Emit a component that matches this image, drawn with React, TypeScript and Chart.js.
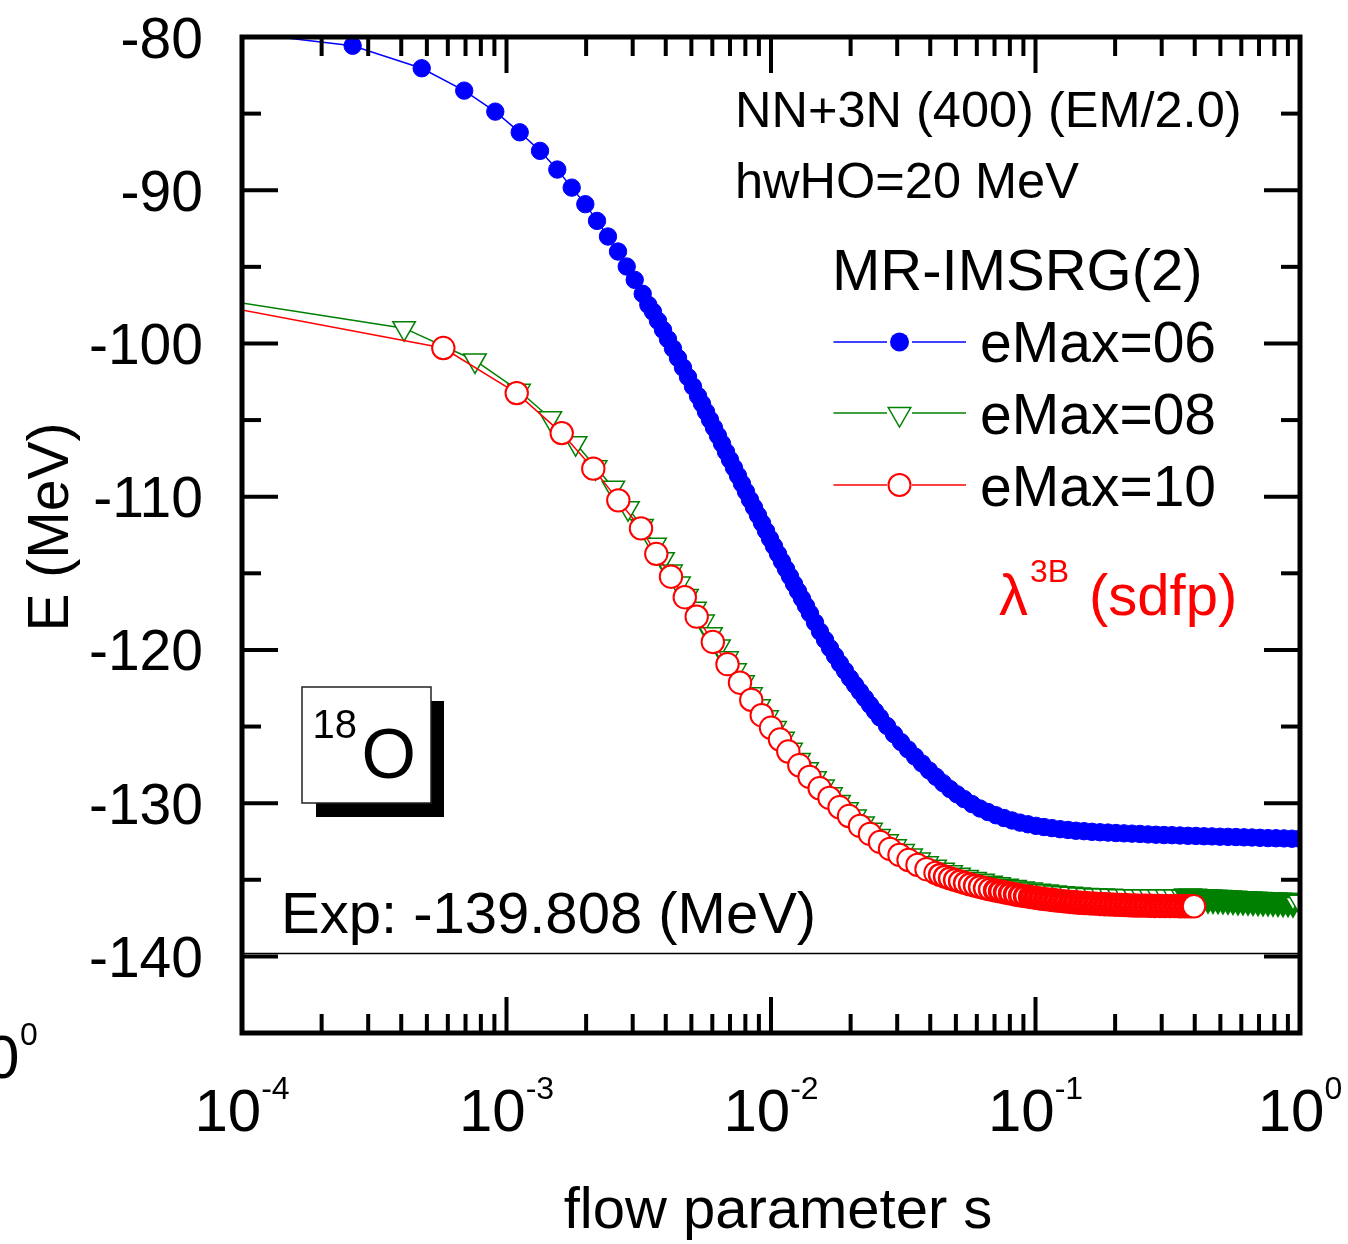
import React, { useEffect, useRef } from 'react';
import { Chart, registerables } from 'chart.js';

Chart.register(...registerables);

const FONT = '"Liberation Sans", Arial, Helvetica, sans-serif';

// ---- axis / label data ----
const yTickValues = [-80, -90, -100, -110, -120, -130, -140];
const xTickExponents = [-4, -3, -2, -1, 0];
const seriesLabels = ['eMax=06', 'eMax=08', 'eMax=10'];
const expEnergy = -139.808;

// ---- eMax=06 (blue, filled circles) ----
const sBlue = [
  4.4e-5, 2.62e-4, 4.78e-4, 6.92e-4, 9.07e-4, 1.122e-3, 1.339e-3, 1.556e-3, 1.764e-3, 1.986e-3,
  2.199e-3, 2.419e-3, 2.64e-3, 2.848e-3, 3.053e-3, 3.273e-3, 3.437e-3,
  3.58e-3, 3.739e-3, 3.906e-3, 4.079e-3, 4.261e-3, 4.45e-3, 4.648e-3, 4.855e-3, 5.071e-3, 5.297e-3,
  5.485e-3, 5.679e-3, 5.88e-3, 6.088e-3, 6.304e-3, 6.528e-3, 6.759e-3, 6.998e-3, 7.246e-3, 7.503e-3,
  7.769e-3, 8.044e-3, 8.329e-3, 8.625e-3, 8.93e-3, 9.247e-3, 9.574e-3, 9.914e-3,
  1.0265e-2, 1.0629e-2, 1.1005e-2, 1.1395e-2, 1.1799e-2, 1.2217e-2, 1.265e-2, 1.3098e-2, 1.3562e-2, 1.4043e-2,
  1.4668e-2, 1.532e-2, 1.6002e-2, 1.6714e-2, 1.7457e-2, 1.8234e-2, 1.9045e-2, 1.9892e-2, 2.0777e-2,
  2.1702e-2, 2.2667e-2, 2.3676e-2, 2.4729e-2, 2.5829e-2,
  2.7452e-2, 2.9177e-2, 3.101e-2, 3.2959e-2, 3.5029e-2, 3.7231e-2, 3.957e-2, 4.2056e-2, 4.4699e-2,
  4.7507e-2, 5.0492e-2,
  5.3665e-2, 5.7536e-2, 6.1686e-2, 6.6135e-2, 7.0905e-2, 7.6019e-2, 8.1502e-2, 8.7381e-2, 9.3683e-2,
  0.10044, 0.10768, 0.11545, 0.12378, 0.13271, 0.14228, 0.15254, 0.16354, 0.17534, 0.18798, 0.20154,
  0.21608, 0.23166, 0.24837, 0.26629, 0.28549, 0.30608, 0.32816, 0.35183, 0.37721, 0.40441, 0.43358,
  0.46485, 0.49838, 0.53433, 0.57287, 0.61419, 0.65849, 0.70598, 0.7569, 0.8115, 0.87002, 0.93278, 1.0,
];
const eBlue = [
  -79.0, -80.57, -82.04, -83.5, -84.87, -86.22, -87.43, -88.65, -89.83, -90.91,
  -92.0, -93.02, -94.0, -94.98, -95.85, -96.76, -97.48,
  -97.93, -98.52, -99.11, -99.72, -100.33, -100.95, -101.57, -102.19, -102.81, -103.43,
  -103.93, -104.46, -104.98, -105.5, -106.02, -106.54, -107.07, -107.59, -108.11, -108.63,
  -109.15, -109.67, -110.2, -110.7, -111.21, -111.72, -112.23, -112.74,
  -113.23, -113.73, -114.23, -114.72, -115.2, -115.69, -116.17, -116.65, -117.13, -117.62,
  -118.21, -118.8, -119.34, -119.88, -120.39, -120.89, -121.36, -121.84, -122.28,
  -122.72, -123.15, -123.58, -124.0, -124.41,
  -124.96, -125.5, -126.01, -126.49, -126.96, -127.41, -127.86, -128.28, -128.69,
  -129.08, -129.42,
  -129.73, -130.06, -130.35, -130.58, -130.79, -130.97, -131.13, -131.27, -131.38,
  -131.48, -131.56, -131.63, -131.7, -131.75, -131.8, -131.83, -131.87, -131.9, -131.92, -131.95,
  -131.97, -131.99, -132.01, -132.04, -132.06, -132.08, -132.09, -132.11, -132.13, -132.14, -132.16,
  -132.17, -132.19, -132.2, -132.21, -132.23, -132.24, -132.26, -132.28, -132.29, -132.3, -132.32, -132.32,
];

// ---- eMax=08 (green, open down-triangles) ----
const sGreen = [
  6.0e-5, 4.1e-4, 7.6e-4, 1.115e-3, 1.464e-3, 1.825e-3, 2.173e-3, 2.534e-3, 2.879e-3, 3.253e-3,
  3.643e-3, 3.906e-3, 4.187e-3, 4.489e-3, 4.813e-3, 5.16e-3, 5.533e-3, 5.932e-3, 6.359e-3, 6.818e-3,
  7.31e-3, 7.837e-3, 8.402e-3, 9.008e-3, 9.658e-3, 1.0355e-2, 1.1101e-2, 1.1902e-2, 1.2761e-2, 1.3681e-2,
  1.4668e-2, 1.5726e-2, 1.686e-2, 1.8076e-2, 1.938e-2, 2.0777e-2, 2.2276e-2, 2.3883e-2, 2.5605e-2,
  2.7452e-2, 2.9432e-2, 3.1555e-2, 3.3831e-2, 3.6271e-2, 3.8887e-2, 4.1692e-2, 4.4699e-2, 4.7923e-2,
  5.1379e-2, 5.5085e-2, 5.9058e-2, 6.3318e-2, 6.7885e-2, 7.2781e-2, 7.8031e-2, 8.3659e-2, 8.9693e-2,
  9.6162e-2, 0.1031, 0.11053, 0.11851, 0.12705, 0.13622, 0.14604, 0.15658, 0.16787, 0.17998, 0.19296,
  0.20687, 0.2218, 0.23779, 0.25494, 0.27333, 0.29305, 0.31418, 0.33684, 0.36114,
  0.37721, 0.39399, 0.41152, 0.42982, 0.44895, 0.46892, 0.48978, 0.51157, 0.53433, 0.5581, 0.58293,
  0.60886, 0.63595, 0.66424, 0.6938, 0.72466, 0.7569, 0.79057, 0.82575, 0.86248, 0.90085, 0.94093, 1.0,
];
const eGreen = [
  -96.77, -99.0, -101.11, -103.09, -104.88, -106.51, -108.08, -109.41, -110.75, -111.92,
  -113.13, -114.08, -114.89, -115.67, -116.48, -117.31, -118.15, -118.97, -119.77, -120.55,
  -121.33, -122.11, -122.9, -123.67, -124.4, -125.1, -125.8, -126.52, -127.18, -127.78,
  -128.37, -128.92, -129.42, -129.92, -130.39, -130.87, -131.32, -131.74, -132.15,
  -132.49, -132.82, -133.13, -133.41, -133.68, -133.93, -134.15, -134.34, -134.51,
  -134.67, -134.82, -134.95, -135.07, -135.19, -135.3, -135.39, -135.48, -135.57,
  -135.64, -135.71, -135.77, -135.83, -135.88, -135.92, -135.96, -135.99, -136.02, -136.03, -136.05,
  -136.07, -136.08, -136.09, -136.1, -136.1, -136.1, -136.1, -136.1, -136.11,
  -136.11, -136.13, -136.15, -136.16, -136.18, -136.19, -136.21, -136.23, -136.24, -136.26, -136.28,
  -136.29, -136.31, -136.32, -136.33, -136.35, -136.36, -136.37, -136.39, -136.4, -136.41, -136.43, -136.44,
];

// ---- eMax=10 (red, open circles) ----
const sRed = [
  6.2e-5, 5.77e-4, 1.093e-3, 1.617e-3, 2.129e-3, 2.647e-3, 3.225e-3, 3.684e-3, 4.187e-3, 4.721e-3,
  5.237e-3, 6.026e-3, 6.847e-3, 7.634e-3, 8.42e-3, 9.222e-3, 1.0e-2, 1.0815e-2, 1.1624e-2, 1.2794e-2,
  1.3992e-2, 1.527e-2, 1.664e-2, 1.816e-2, 1.972e-2, 2.17e-2, 2.367e-2, 2.584e-2, 2.818e-2, 3.06e-2,
  3.311e-2, 3.58e-2, 3.872e-2, 4.187e-2,
  4.3547e-2, 4.5484e-2, 4.7507e-2, 4.9621e-2, 5.1829e-2, 5.4134e-2, 5.6543e-2, 5.9058e-2, 6.1686e-2,
  6.443e-2, 6.7296e-2, 7.029e-2, 7.3418e-2, 7.6684e-2, 8.0095e-2, 8.3659e-2, 8.7381e-2, 9.1268e-2,
  9.5329e-2, 9.9569e-2, 0.104, 0.10863, 0.11346, 0.11851, 0.12378, 0.12928, 0.13504, 0.14104, 0.14732,
  0.15387, 0.16072, 0.16787, 0.17534, 0.18314, 0.19129, 0.19979, 0.20868, 0.21797, 0.22767, 0.23779,
  0.24837, 0.25942, 0.27096, 0.28302, 0.29561, 0.30876, 0.3225, 0.33684, 0.35183, 0.36748, 0.38383, 0.39743,
];
const eRed = [
  -97.13, -100.3, -103.24, -105.85, -108.17, -110.24, -112.07, -113.73, -115.22, -116.56,
  -117.83, -119.48, -120.93, -122.14, -123.26, -124.26, -125.08, -125.85, -126.63, -127.53,
  -128.29, -129.03, -129.66, -130.27, -130.84, -131.49, -132.01, -132.53, -132.99, -133.38,
  -133.71, -134.03, -134.31, -134.55,
  -134.68, -134.8, -134.91, -135.01, -135.11, -135.21, -135.3, -135.39, -135.47,
  -135.55, -135.63, -135.7, -135.76, -135.83, -135.89, -135.96, -136.02, -136.07,
  -136.12, -136.17, -136.22, -136.26, -136.3, -136.34, -136.38, -136.41, -136.45, -136.47, -136.5,
  -136.52, -136.54, -136.56, -136.58, -136.6, -136.61, -136.63, -136.64, -136.65, -136.67, -136.68,
  -136.69, -136.69, -136.7, -136.71, -136.71, -136.72, -136.72, -136.72, -136.73, -136.73, -136.73, -136.73,
];

function toPoints(s: number[], e: number[]) {
  const n = Math.min(s.length, e.length);
  const out: { x: number; y: number }[] = [];
  for (let i = 0; i < n; i++) out.push({ x: s[i], y: e[i] });
  return out;
}

const BLUE = '#0000ff';
const GREEN = '#008000';
const RED = '#ff0000';

const MAJOR = 36;
const MINOR = 19;

const overlay = {
  id: 'overlay',
  afterDraw(chart: any) {
    const { ctx, chartArea: a, scales } = chart;
    const xs = scales.x;
    const ys = scales.y;
    ctx.save();

    const seg = (x1: number, y1: number, x2: number, y2: number) => {
      ctx.beginPath();
      ctx.moveTo(x1, y1);
      ctx.lineTo(x2, y2);
      ctx.stroke();
    };
    const text = (t: string, x: number, y: number, size: number, align: CanvasTextAlign = 'left', color = '#000') => {
      ctx.font = `${size}px ${FONT}`;
      ctx.fillStyle = color;
      ctx.textAlign = align;
      ctx.textBaseline = 'alphabetic';
      ctx.fillText(t, x, y);
    };

    // ticks (inward, all four sides)
    ctx.strokeStyle = '#000';
    ctx.lineCap = 'butt';
    ctx.lineWidth = 4;
    for (let v = -145; v <= -80; v += 5) {
      const y = ys.getPixelForValue(v);
      const len = v % 10 === 0 ? MAJOR : MINOR;
      seg(a.left, y, a.left + len, y);
      seg(a.right, y, a.right - len, y);
    }
    for (let e = -4; e <= 0; e++) {
      for (let m = 1; m <= 9; m++) {
        const v = m * Math.pow(10, e);
        if (v > 1.0000001) break;
        const x = xs.getPixelForValue(v);
        const len = m === 1 ? MAJOR : MINOR;
        seg(x, a.bottom, x, a.bottom - len);
        seg(x, a.top, x, a.top + len);
      }
    }
    // frame
    ctx.lineWidth = 5;
    ctx.strokeRect(a.left, a.top, a.right - a.left, a.bottom - a.top);

    // y tick labels
    for (const v of yTickValues) {
      const y = ys.getPixelForValue(v);
      text(String(v), 203, y + 20.5, 57, 'right');
    }
    // x tick labels 10^n
    for (const e of xTickExponents) {
      const x = xs.getPixelForValue(Math.pow(10, e));
      ctx.font = `60px ${FONT}`;
      const w1 = ctx.measureText('10').width;
      const sup = String(e);
      ctx.font = `32px ${FONT}`;
      const w2 = ctx.measureText(sup).width;
      const x0 = x - (w1 + w2) / 2;
      text('10', x0, 1131, 60);
      text(sup, x0 + w1, 1099, 32);
    }
    // stray fragment of a neighbouring label at the far left
    text('10', 19.6, 1078, 62, 'right');
    text('0', 20, 1045, 32);

    // axis titles
    text('flow parameter s', 778, 1228, 58, 'center');
    ctx.save();
    ctx.translate(68, 527);
    ctx.rotate(-Math.PI / 2);
    text('E (MeV)', 0, 0, 57, 'center');
    ctx.restore();

    // annotations
    text('NN+3N (400) (EM/2.0)', 735, 127, 50.5);
    text('hwHO=20 MeV', 735, 198, 50.5);
    text('MR-IMSRG(2)', 832, 290, 58);

    // legend
    const rows = [
      { label: seriesLabels[0], color: BLUE, my: 342, ty: 362 },
      { label: seriesLabels[1], color: GREEN, my: 413, ty: 434 },
      { label: seriesLabels[2], color: RED, my: 485, ty: 506 },
    ];
    rows.forEach((r, i) => {
      ctx.strokeStyle = r.color;
      ctx.lineWidth = 1.5;
      seg(833.5, r.my, 887, r.my);
      seg(912, r.my, 966, r.my);
      const cx = 899.5;
      if (i === 0) {
        ctx.fillStyle = BLUE;
        ctx.beginPath();
        ctx.arc(cx, r.my, 9.5, 0, Math.PI * 2);
        ctx.fill();
      } else if (i === 1) {
        const R = 13;
        const cy = r.my + 1;
        ctx.beginPath();
        ctx.moveTo(cx - R * Math.sin(Math.PI / 3), cy - R / 2);
        ctx.lineTo(cx + R * Math.sin(Math.PI / 3), cy - R / 2);
        ctx.lineTo(cx, cy + R);
        ctx.closePath();
        ctx.fillStyle = '#fff';
        ctx.fill();
        ctx.stroke();
      } else {
        ctx.lineWidth = 2;
        ctx.beginPath();
        ctx.arc(cx, r.my, 11, 0, Math.PI * 2);
        ctx.fillStyle = '#fff';
        ctx.fill();
        ctx.stroke();
      }
      text(r.label, 980, r.ty, 57);
    });

    // lambda^3B (sdfp)
    text('\u03bb', 999, 615, 58, 'left', RED);
    text('3B', 1030, 582, 32, 'left', RED);
    text('(sdfp)', 1089, 615, 58, 'left', RED);

    // Exp label
    text('Exp: -139.808 (MeV)', 281, 933, 58);

    // 18O inset box with shadow
    ctx.fillStyle = '#000';
    ctx.fillRect(316, 701, 128, 116);
    ctx.fillStyle = '#fff';
    ctx.fillRect(302, 687, 129, 116);
    ctx.strokeStyle = '#222';
    ctx.lineWidth = 1.5;
    ctx.strokeRect(302, 687, 129, 116);
    text('18', 312.5, 738, 40);
    text('O', 361.5, 778, 70);

    ctx.restore();
  },
};

export default function App() {
  const ref = useRef<HTMLCanvasElement>(null);
  useEffect(() => {
    document.body.style.margin = '0';
    const canvas = ref.current;
    if (!canvas) return;
    const redCount = Math.min(sRed.length, eRed.length);
    const redBW = (c: any) => {
      const s = c.raw ? c.raw.x : 0;
      if (c.dataIndex === redCount - 1) return 2;
      if (s > 0.0953) return 5;
      if (s > 0.07) return 3.5;
      if (s > 0.043) return 2.5;
      return 2;
    };
    const greenBW = (c: any) => {
      const s = c.raw ? c.raw.x : 0;
      return s > 0.375 && s < 0.99 ? 5 : 1.5;
    };
    const chart = new Chart(canvas, {
      type: 'line',
      data: {
        datasets: [
          {
            label: seriesLabels[2],
            data: toPoints(sRed, eRed),
            order: 0,
            borderColor: RED,
            borderWidth: 1.5,
            pointStyle: 'circle',
            pointRadius: (c: any) => 12.2 - redBW(c) / 2,
            pointBorderWidth: redBW,
            pointBorderColor: RED,
            pointBackgroundColor: '#ffffff',
            tension: 0,
            fill: false,
          },
          {
            label: seriesLabels[1],
            data: toPoints(sGreen, eGreen),
            order: 1,
            borderColor: GREEN,
            borderWidth: 1.5,
            pointStyle: 'triangle',
            pointRotation: 180,
            pointRadius: (c: any) => (greenBW(c) > 2 ? 12 : 13),
            pointBorderWidth: greenBW,
            pointBorderColor: GREEN,
            pointBackgroundColor: '#ffffff',
            tension: 0,
            fill: false,
          },
          {
            label: seriesLabels[0],
            data: toPoints(sBlue, eBlue),
            order: 2,
            borderColor: BLUE,
            borderWidth: 1.5,
            pointStyle: 'circle',
            pointRadius: 8.7,
            pointBorderWidth: 1,
            pointBorderColor: BLUE,
            pointBackgroundColor: BLUE,
            tension: 0,
            fill: false,
          },
          {
            label: 'Exp',
            data: [
              { x: 1e-4, y: expEnergy },
              { x: 1, y: expEnergy },
            ],
            order: 3,
            borderColor: '#000000',
            borderWidth: 1.5,
            pointRadius: 0,
            tension: 0,
            fill: false,
          },
        ],
      } as any,
      options: {
        responsive: false,
        animation: false,
        devicePixelRatio: 1,
        events: [],
        layout: { padding: { left: 242, right: 48, top: 37, bottom: 211 } },
        scales: {
          x: { type: 'logarithmic', min: 1e-4, max: 1, display: false },
          y: { type: 'linear', min: -145, max: -80, display: false },
        },
        plugins: { legend: { display: false }, tooltip: { enabled: false } },
      } as any,
      plugins: [overlay],
    });
    return () => chart.destroy();
  }, []);
  return (
    <canvas
      ref={ref}
      width={1348}
      height={1244}
      style={{ display: 'block', width: '1348px', height: '1244px' }}
    />
  );
}
